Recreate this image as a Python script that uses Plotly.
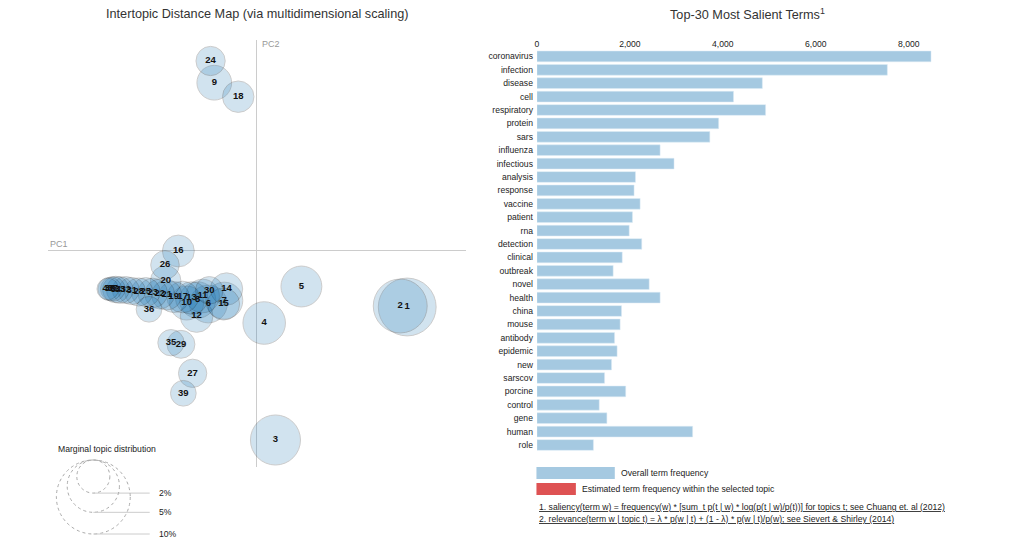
import plotly.graph_objects as go

W, H = 1022, 549
FONT = "Liberation Sans, Arial, sans-serif"

# ---------------- data ----------------
terms = ["coronavirus", "infection", "disease", "cell", "respiratory", "protein", "sars",
         "influenza", "infectious", "analysis", "response", "vaccine", "patient", "rna",
         "detection", "clinical", "outbreak", "novel", "health", "china", "mouse",
         "antibody", "epidemic", "new", "sarscov", "porcine", "control", "gene", "human", "role"]
term_freq = [8480, 7540, 4850, 4230, 4920, 3910, 3720, 2650, 2950, 2120, 2090, 2220, 2055,
             1985, 2255, 1835, 1640, 2415, 2650, 1820, 1790, 1670, 1725, 1605, 1455, 1910,
             1340, 1505, 3350, 1215]
freq_ticks = [0, 2000, 4000, 6000, 8000]

topic_ids = list(range(1, 41))
topic_pc1 = [0.22575, 0.21525, 0.02775, 0.0108, 0.06675, -0.0732, -0.0492, -0.08925, -0.0642,
             -0.10575, -0.08175, -0.09075, -0.09825, -0.04575, -0.05025, -0.1182, -0.11175,
             -0.0282, -0.12525, -0.13725, -0.13575, -0.14625, -0.15675, -0.06975, -0.16725,
             -0.1383, -0.09675, -0.17775, -0.1143, -0.0717, -0.18825, -0.19725, -0.20625,
             -0.21225, -0.1293, -0.1623, -0.21675, -0.22125, -0.1107, -0.22425]
topic_pc2 = [-0.08475, -0.08325, -0.28425, -0.10875, -0.054, -0.08025, -0.0753, -0.07425, 0.2517,
             -0.07875, -0.06825, -0.09825, -0.07125, -0.05775, -0.08025, -0.00075, -0.06975,
             0.2307, -0.06975, -0.04575, -0.06675, -0.06525, -0.06375, 0.28425, -0.06225,
             -0.02175, -0.1842, -0.06225, -0.1407, -0.0597, -0.06075, -0.05925, -0.05925,
             -0.0585, -0.1383, -0.0882, -0.05775, -0.05775, -0.2142, -0.05775]
topic_pct = [6.1, 5.3, 4.57, 3.3, 3.05, 2.6, 2.5, 2.4, 2.2, 2.1, 2.05, 1.95, 1.93, 1.9, 1.88,
             1.85, 1.82, 1.8, 1.75, 1.7, 1.65, 1.62, 1.6, 1.56, 1.52, 1.48, 1.46, 1.44, 1.42,
             1.38, 1.35, 1.32, 1.3, 1.28, 1.26, 1.2, 1.1, 1.0, 1.2, 0.85]

legend_pcts = [2, 5, 10]
legend_labels = ["2%", "5%", "10%"]

# ---------------- scales ----------------
R10 = 37.0  # pixel radius of a 10% topic


def radius(p):
    return R10 * (p / 10.0) ** 0.5


fig = go.Figure()

# ---------------- left: intertopic distance map ----------------
fig.add_trace(go.Scatter(
    x=topic_pc1, y=topic_pc2, xaxis="x", yaxis="y",
    mode="markers+text",
    text=["<b>%d</b>" % t for t in topic_ids],
    textposition="middle center",
    textfont=dict(family=FONT, size=9.5, color="#111"),
    marker=dict(size=[2 * radius(p) for p in topic_pct], sizemode="diameter",
                color="#1f77b4", opacity=0.2,
                line=dict(color="black", width=1)),
    hoverinfo="skip", showlegend=False,
))

# ---------------- right: salient terms ----------------
fig.add_trace(go.Bar(
    x=term_freq, y=terms, orientation="h", xaxis="x2", yaxis="y2",
    marker=dict(color="rgb(165,201,225)", line=dict(color="rgb(220,235,245)", width=0.5)),
    hoverinfo="skip", showlegend=False,
))

ax_x0, ax_x1 = 46 / W, 465 / W
ax_y0, ax_y1 = 1 - 467 / H, 1 - 40 / H
PX_PER_UNIT = (908.5 - 536) / 8000.0
BAR_MAX = 8700

fig.update_layout(
    width=W, height=H, autosize=False,
    margin=dict(l=0, r=0, t=0, b=0),
    paper_bgcolor="white", plot_bgcolor="white",
    font=dict(family=FONT, color="#222"),
    bargap=0.2,
    xaxis=dict(domain=[ax_x0, ax_x1], range=[-0.31425, 0.31425], showgrid=False,
               zeroline=True, zerolinecolor="#cccccc", zerolinewidth=1,
               showticklabels=False, ticks="", showline=False, fixedrange=True),
    yaxis=dict(domain=[ax_y0, ax_y1], range=[-0.32475, 0.31575], showgrid=False,
               zeroline=True, zerolinecolor="#cccccc", zerolinewidth=1,
               showticklabels=False, ticks="", showline=False, fixedrange=True),
    xaxis2=dict(domain=[536 / W, (536 + BAR_MAX * PX_PER_UNIT) / W], range=[0, BAR_MAX],
                side="top", anchor="y2",
                showgrid=False, zeroline=False, showline=False, ticks="",
                tickvals=freq_ticks, tickformat=",", tickfont=dict(size=8.6, color="#222"),
                fixedrange=True),
    yaxis2=dict(domain=[1 - 451.7 / H, 1 - 49.7 / H], anchor="x2",
                categoryorder="array", categoryarray=terms, range=[29.5, -0.5],
                showgrid=False, zeroline=False, showline=False, ticks="",
                tickfont=dict(size=8.6, color="#222"), ticklabelstandoff=3,
                automargin=False, fixedrange=True),
)

ann = []
shapes = []
# titles
ann.append(dict(text="Intertopic Distance Map (via multidimensional scaling)",
                x=256 / W, y=1 - 14 / H, xref="paper", yref="paper", showarrow=False,
                xanchor="center", yanchor="middle", font=dict(size=12.7, color="#333")))
ann.append(dict(text="Top-30 Most Salient Terms<sup>1</sup>",
                x=667 / W, y=1 - 14 / H, xref="paper", yref="paper", showarrow=False,
                xanchor="left", yanchor="middle", font=dict(size=12.7, color="#333")))
# PC labels
ann.append(dict(text="PC1", x=46 / W, y=1 - 244 / H, xref="paper", yref="paper",
                showarrow=False, xanchor="left", yanchor="middle",
                font=dict(size=9, color="#999")))
ann.append(dict(text="PC2", x=259 / W, y=1 - 44 / H, xref="paper", yref="paper",
                showarrow=False, xanchor="left", yanchor="middle",
                font=dict(size=9, color="#999")))

# marginal topic distribution legend
ann.append(dict(text="Marginal topic distribution", x=54 / W, y=1 - 449 / H,
                xref="paper", yref="paper", showarrow=False, xanchor="left",
                yanchor="middle", font=dict(size=8.65, color="#222")))
cx, top = 91.5, 460
for p, lab in zip(legend_pcts, legend_labels):
    r = radius(p)
    cy = top + r
    shapes.append(dict(type="circle", xref="paper", yref="paper",
                       x0=(cx - r) / W, x1=(cx + r) / W,
                       y0=1 - (cy + r) / H, y1=1 - (cy - r) / H,
                       line=dict(color="#aaaaaa", width=1, dash="dot")))
    by = cy + r
    shapes.append(dict(type="line", xref="paper", yref="paper",
                       x0=cx / W, x1=148 / W, y0=1 - by / H, y1=1 - by / H,
                       line=dict(color="#cccccc", width=1)))
    ann.append(dict(text=lab, x=155 / W, y=1 - by / H, xref="paper", yref="paper",
                    showarrow=False, xanchor="left", yanchor="middle",
                    font=dict(size=8.65, color="#222")))

# bar legend
shapes.append(dict(type="rect", xref="paper", yref="paper", x0=535.5 / W, x1=614 / W,
                   y0=1 - 479 / H, y1=1 - 467 / H, fillcolor="rgb(165,201,225)",
                   line=dict(width=0)))
ann.append(dict(text="Overall term frequency", x=618 / W, y=1 - 472.5 / H, xref="paper",
                yref="paper", showarrow=False, xanchor="left", yanchor="middle",
                font=dict(size=8.65, color="#222")))
shapes.append(dict(type="rect", xref="paper", yref="paper", x0=535.5 / W, x1=575 / W,
                   y0=1 - 495 / H, y1=1 - 483 / H, fillcolor="rgb(222,82,83)",
                   line=dict(width=0)))
ann.append(dict(text="Estimated term frequency within the selected topic", x=579 / W,
                y=1 - 489 / H, xref="paper", yref="paper", showarrow=False,
                xanchor="left", yanchor="middle", font=dict(size=8.65, color="#222")))
# footnotes
ann.append(dict(text="<u>1. saliency(term w) = frequency(w) * [sum_t p(t | w) * log(p(t | w)/p(t))] for topics t; see Chuang et. al (2012)</u>",
                x=536 / W, y=1 - 507 / H, xref="paper", yref="paper", showarrow=False,
                xanchor="left", yanchor="middle", font=dict(size=8.65, color="#222")))
ann.append(dict(text="<u>2. relevance(term w | topic t) = \u03bb * p(w | t) + (1 - \u03bb) * p(w | t)/p(w); see Sievert &amp; Shirley (2014)</u>",
                x=536 / W, y=1 - 518.5 / H, xref="paper", yref="paper", showarrow=False,
                xanchor="left", yanchor="middle", font=dict(size=8.65, color="#222")))

fig.update_layout(annotations=ann, shapes=shapes)

fig.write_html("out.html", config={"displayModeBar": False},
               post_script="document.body.style.margin='0';document.body.style.overflow='hidden';")
